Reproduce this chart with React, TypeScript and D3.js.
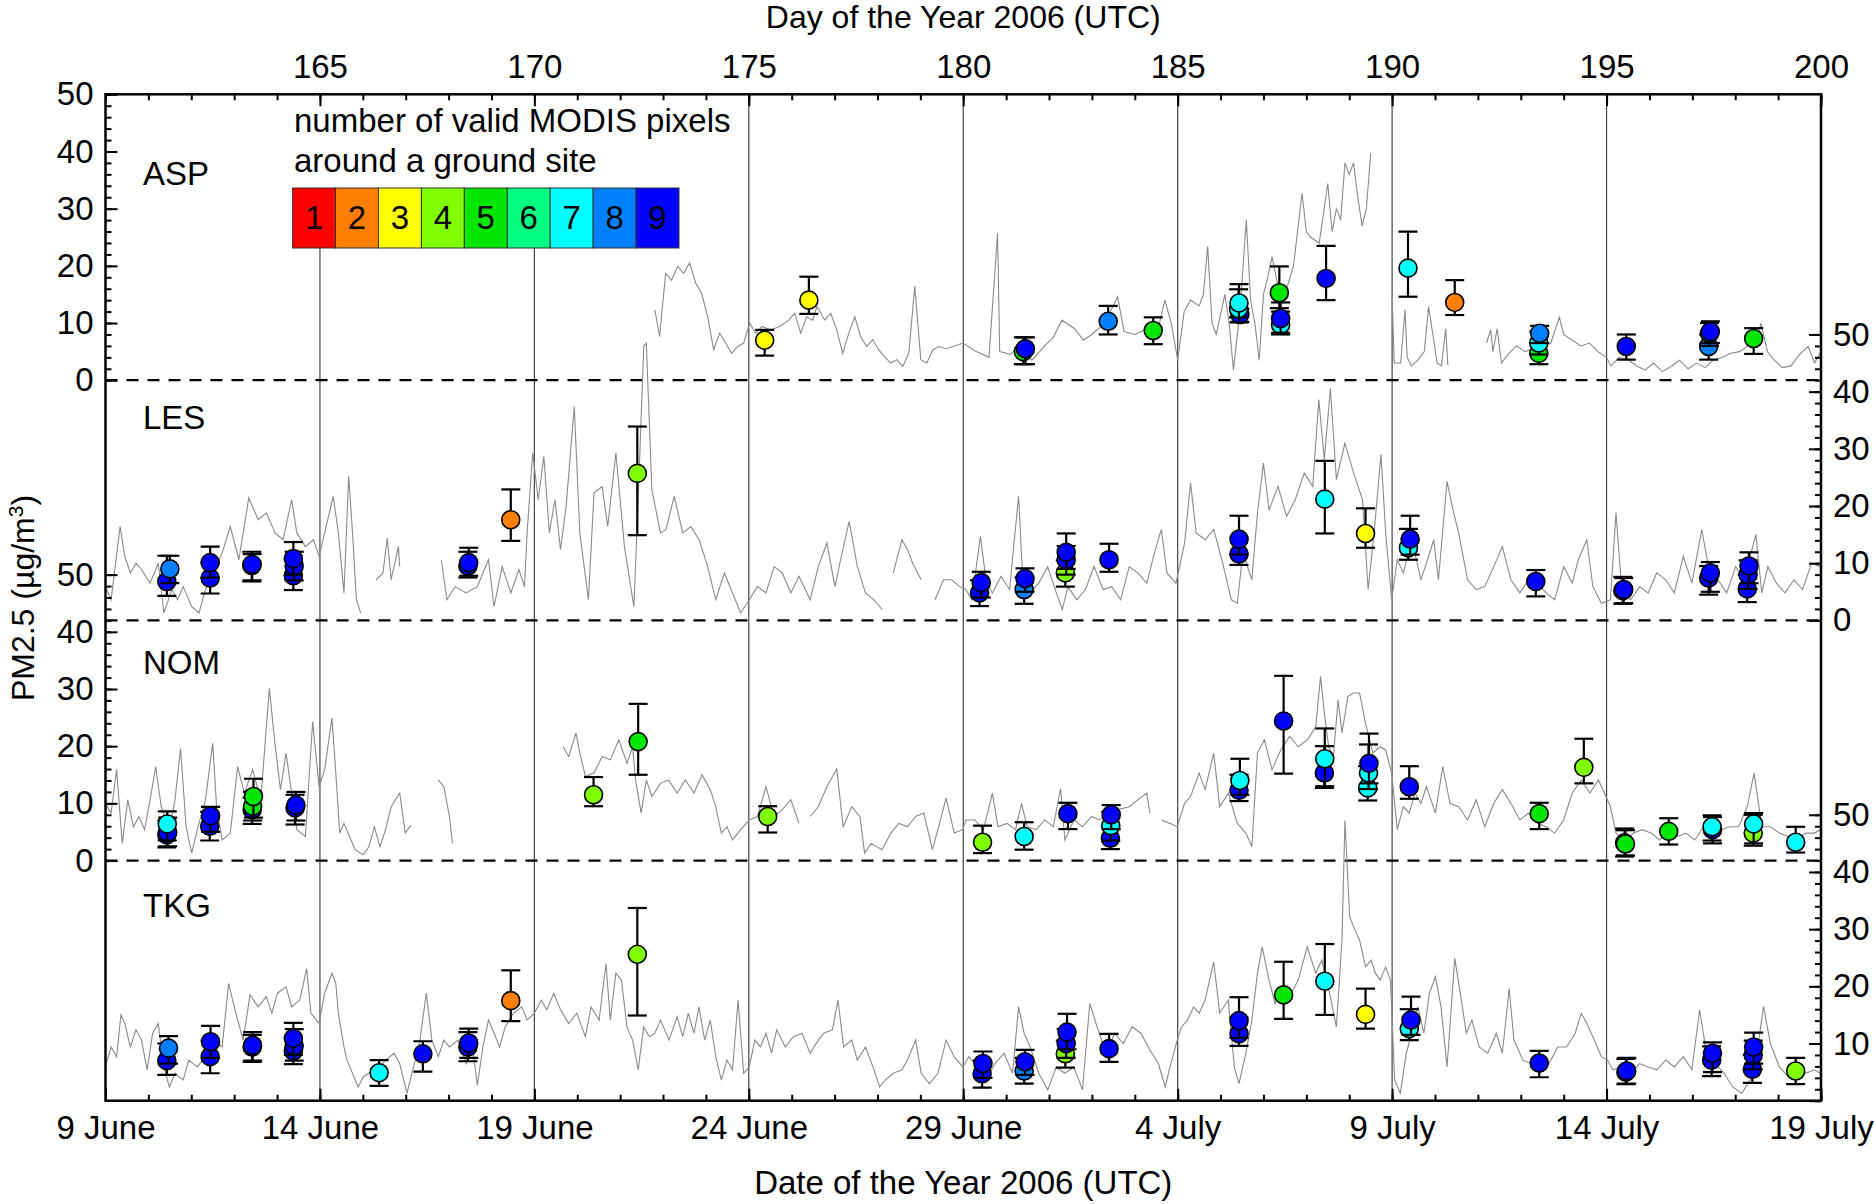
import { useRef, useEffect } from "react";
import * as d3 from "d3";

type Pt = [number, number] | null;
type Modis = [number, number, number, number, number]; // day, value, low, high, number of pixels

const FONT = "'Liberation Sans', Arial, Helvetica, sans-serif";

const sites = ["ASP", "LES", "NOM", "TKG"];
// zero of each panel on the stacked 0..176 scale
const siteBase = [126, 84, 42, 0];
const siteLabelAt = [34.2, 33.5, 32.6, 32.1];
const pixelColors = ["#ff0000", "#ff8000", "#ffff00", "#80ff00", "#00e600", "#00ff80", "#00ffff", "#0080ff", "#0000ff"];
const pixelCounts = [1, 2, 3, 4, 5, 6, 7, 8, 9];
const dayTicks = [165, 170, 175, 180, 185, 190, 195, 200];
const dateTicks = [160, 165, 170, 175, 180, 185, 190, 195, 200];
const dateLabels = ["9 June", "14 June", "19 June", "24 June", "29 June", "4 July", "9 July", "14 July", "19 July"];
const legendTitle = ["number of valid MODIS pixels", "around a ground site"];

// ground measurements (gray lines), null = gap
const aspGround: Pt[] = [
  [172.81, 12.3], [172.92, 7.6], [173.06, 18.7], [173.2, 17.5], [173.34, 19.9], [173.48, 18.7], [173.62, 20.5], [173.76, 17.0],
  [173.9, 15.2], [174.04, 11.1], [174.18, 5.3], [174.32, 8.2], [174.46, 6.5], [174.6, 4.7], [174.74, 5.9], [174.88, 6.5],
  [175.02, 10.0], [175.16, 8.2], [175.3, 9.4], [175.51, 8.8], [175.72, 9.4], [175.93, 10.5], [176.07, 11.7], [176.21, 8.2],
  [176.35, 11.1], [176.49, 10.5], [176.59, 12.9], [176.77, 10.5], [176.91, 11.7], [177.05, 8.8], [177.19, 4.7], [177.33, 8.2],
  [177.47, 11.1], [177.61, 7.6], [177.75, 5.9], [177.89, 7.1], [178.03, 5.3], [178.17, 4.1], [178.31, 3.0], [178.45, 3.6],
  [178.59, 2.4], [178.73, 4.7], [178.87, 16.4], [179.01, 3.6], [179.15, 3.0], [179.29, 5.3], [179.43, 5.9], [179.6, 5.5],
  [180.0, 6.5], [180.3, 5.0], [180.6, 4.0], [180.8, 25.7], [180.85, 5.0], [181.1, 4.5], [181.3, 6.0], [181.6, 3.5],
  [181.9, 6.0], [182.1, 7.5], [182.3, 10.5], [182.6, 9.0], [182.8, 7.0], [183.0, 8.0], [183.3, 10.0], [183.6, 14.6],
  [183.75, 8.5], [184.0, 8.0], [184.3, 9.0], [184.5, 7.5], [184.7, 14.0], [184.85, 10.0], [185.0, 3.5], [185.15, 12.0],
  [185.3, 14.0], [185.5, 13.0], [185.6, 15.0], [185.7, 23.4], [185.8, 10.0], [185.9, 8.0], [186.1, 15.0], [186.2, 10.0],
  [186.3, 1.8], [186.45, 12.0], [186.6, 28.0], [186.7, 14.0], [186.8, 10.0], [186.9, 3.5], [187.0, 15.0], [187.1, 18.0],
  [187.2, 21.6], [187.35, 16.0], [187.5, 15.0], [187.7, 20.0], [187.9, 32.7], [188.0, 26.0], [188.1, 25.0], [188.3, 24.0],
  [188.5, 34.4], [188.6, 26.0], [188.7, 30.0], [188.8, 28.0], [188.9, 38.0], [189.0, 36.0], [189.1, 38.0], [189.2, 32.0],
  [189.3, 27.0], [189.4, 30.0], [189.5, 39.7], null,
  [190.0, 14.6], [190.05, 3.0], [190.2, 3.0], [190.3, 12.3], [190.35, 4.0], [190.45, 2.5], [190.6, 3.5], [190.75, 5.0],
  [190.85, 12.9], [190.95, 8.0], [191.05, 3.0], [191.15, 2.5], [191.25, 9.0], [191.3, 2.6], null,
  [192.2, 6.5], [192.3, 8.8], [192.35, 5.0], [192.45, 9.0], [192.55, 3.0], [192.7, 4.5], [192.9, 6.0], [193.1, 5.0],
  [193.3, 5.5], [193.5, 6.0], [193.7, 6.5], [193.9, 11.0], [194.0, 8.0], [194.2, 7.0], [194.4, 6.0], [194.6, 6.5],
  [194.8, 5.0], [195.0, 4.0], [195.1, 2.5], [195.3, 4.0], [195.5, 3.6], [195.7, 2.5], [195.9, 1.8], [196.1, 3.0],
  [196.3, 1.5], [196.5, 2.4], [196.7, 3.5], [196.9, 2.0], [197.1, 3.0], [197.3, 2.2], [197.5, 3.6], [197.7, 4.0],
  [197.9, 4.7], [198.1, 5.0], [198.3, 6.0], [198.5, 7.0], [198.6, 10.0], [198.75, 5.0], [198.9, 3.6], [199.1, 2.2],
  [199.3, 2.5], [199.5, 4.5], [199.7, 5.9], [199.85, 3.0], [200.0, 5.0],
];

const lesGround: Pt[] = [
  [160.0, 5.9], [160.13, 3.6], [160.34, 16.4], [160.45, 11.2], [160.58, 8.3], [160.71, 10.0], [160.84, 8.9], [161.04, 6.5],
  [161.23, 10.0], [161.36, 1.3], [161.55, 5.4], [161.68, 3.6], [161.81, 5.9], [162.01, 2.4], [162.18, 1.3], [162.33, 5.4],
  [162.52, 8.3], [162.72, 11.8], [162.91, 16.4], [163.11, 10.6], [163.34, 21.4], [163.56, 17.6], [163.75, 18.8], [163.95, 15.3],
  [164.14, 14.1], [164.34, 21.1], [164.46, 15.3], [164.66, 12.9], [164.85, 14.1], [164.98, 11.2], [165.11, 15.3], [165.31, 21.7],
  [165.43, 15.3], [165.56, 4.8], [165.67, 25.2], [165.76, 15.3], [165.85, 3.6], [165.95, 1.3], null,
  [166.31, 7.1], [166.47, 8.3], [166.57, 14.4], [166.66, 7.1], [166.83, 12.9], [166.86, 9.4], null,
  [167.83, 10.6], [167.96, 3.6], [168.15, 5.9], [168.41, 4.8], [168.67, 5.9], [168.93, 10.6], [169.06, 2.4], [169.25, 9.4],
  [169.45, 4.8], [169.64, 8.9], [169.77, 5.9], [169.83, 15.3], [169.96, 29.3], [170.09, 21.1], [170.22, 28.7], [170.35, 15.3],
  [170.48, 21.1], [170.61, 12.4], [170.74, 19.9], [170.93, 37.4], [171.06, 15.3], [171.26, 3.6], [171.39, 22.3], [171.58, 23.4],
  [171.71, 16.4], [171.9, 29.3], [172.1, 12.9], [172.32, 2.4], [172.42, 21.1], [172.55, 47.9], [172.61, 48.5], [172.74, 22.8],
  [172.94, 15.3], [173.07, 15.9], [173.26, 21.7], [173.46, 15.3], [173.65, 16.4], [173.84, 14.1], [174.04, 9.4], [174.23, 3.6],
  [174.43, 8.3], [174.62, 4.8], [174.81, 1.3], [175.01, 3.6], [175.2, 5.9], [175.4, 4.8], [175.59, 9.4], [175.78, 8.3],
  [175.98, 4.8], [176.17, 7.7], [176.43, 3.6], [176.62, 9.4], [176.82, 13.5], [177.01, 5.9], [177.14, 10.6], [177.34, 17.3],
  [177.53, 9.4], [177.72, 4.8], [177.92, 3.6], [178.11, 1.9], null,
  [178.37, 8.3], [178.57, 14.1], [178.7, 12.4], [178.82, 10.0], [179.02, 7.1], null,
  [179.34, 3.6], [179.54, 7.1], [179.73, 7.1], [179.92, 5.9], [180.06, 5.4], [180.2, 3.6], [180.4, 14.7], [180.54, 6.5],
  [180.68, 4.8], [180.88, 7.7], [181.08, 5.4], [181.29, 21.7], [181.4, 5.4], [181.56, 4.8], [181.76, 6.5], [181.97, 9.4],
  [182.17, 4.8], [182.31, 1.9], [182.44, 5.9], [182.65, 3.6], [182.85, 5.4], [183.05, 9.4], [183.26, 5.4], [183.46, 5.9],
  [183.67, 3.6], [183.87, 9.4], [184.07, 8.3], [184.28, 6.5], [184.48, 12.4], [184.62, 15.9], [184.75, 8.3], [184.96, 6.5],
  [185.16, 13.5], [185.3, 24.0], [185.43, 15.3], [185.64, 14.1], [185.84, 15.9], [186.05, 10.0], [186.25, 3.6], [186.39, 3.0],
  [186.52, 11.8], [186.73, 7.1], [186.86, 18.8], [187.0, 27.5], [187.13, 19.3], [187.34, 23.4], [187.54, 18.2], [187.74, 21.1],
  [187.95, 25.8], [188.15, 23.4], [188.29, 38.6], [188.42, 28.1], [188.56, 40.6], [188.7, 24.6], [188.9, 31.0], [189.1, 25.8],
  [189.31, 21.1], [189.44, 5.4], [189.58, 15.3], [189.74, 29.0], [189.85, 15.3], [189.99, 3.6], [190.12, 10.6], [190.26, 8.3],
  [190.46, 14.1], [190.67, 7.1], [190.8, 10.0], [190.97, 14.1], [191.08, 7.1], [191.28, 24.3], [191.42, 19.3], [191.55, 15.3],
  [191.76, 7.1], [191.96, 5.4], [192.16, 5.9], [192.37, 9.4], [192.57, 12.9], [192.77, 7.1], [192.98, 4.8], [193.18, 7.1],
  [193.39, 6.5], [193.59, 4.8], [193.79, 3.6], [194.0, 9.4], [194.2, 6.5], [194.34, 10.6], [194.54, 14.1], [194.68, 5.9],
  [194.88, 3.0], [195.09, 3.6], [195.22, 18.8], [195.36, 4.8], [195.56, 3.6], [195.77, 5.9], [195.97, 4.8], [196.17, 8.3],
  [196.38, 7.1], [196.58, 4.8], [196.79, 11.2], [196.99, 6.5], [197.22, 15.9], [197.4, 8.3], [197.6, 7.1], [197.8, 4.8],
  [198.01, 9.4], [198.21, 7.1], [198.48, 15.0], [198.62, 4.8], [198.76, 9.4], [198.96, 6.5], [199.16, 4.8], [199.37, 7.1],
  [199.57, 5.4], [199.78, 10.0], [199.98, 9.4],
];

const nomGround: Pt[] = [
  [160.0, 10.0], [160.13, 8.3], [160.26, 15.9], [160.39, 3.0], [160.52, 10.6], [160.65, 5.9], [160.78, 7.7], [160.91, 5.4],
  [161.04, 10.6], [161.17, 16.4], [161.3, 9.4], [161.49, 5.4], [161.62, 10.6], [161.75, 19.6], [161.88, 5.9], [162.01, 1.3],
  [162.14, 5.4], [162.33, 10.6], [162.5, 20.5], [162.59, 9.4], [162.72, 3.6], [162.91, 4.8], [163.08, 16.4], [163.24, 11.8],
  [163.43, 15.9], [163.62, 10.6], [163.82, 30.1], [163.95, 20.5], [164.08, 12.4], [164.21, 18.8], [164.34, 11.8], [164.46, 5.4],
  [164.66, 4.2], [164.83, 24.3], [164.98, 12.9], [165.11, 15.9], [165.28, 24.9], [165.37, 15.3], [165.46, 4.8], [165.56, 6.5],
  [165.69, 4.2], [165.82, 1.9], [166.01, 1.0], [166.14, 2.4], [166.27, 5.9], [166.4, 2.4], [166.53, 5.4], [166.66, 9.4],
  [166.86, 11.8], [166.99, 4.8], [167.12, 6.2], null,
  [167.76, 14.1], [167.89, 12.9], [168.02, 7.7], [168.09, 3.0], null,
  [170.67, 19.9], [170.8, 18.2], [170.97, 22.3], [171.06, 18.8], [171.19, 14.7], [171.39, 15.3], [171.58, 18.2], [171.77, 17.6],
  [171.97, 21.1], [172.16, 17.0], [172.29, 19.9], [172.36, 14.1], [172.49, 8.3], [172.61, 14.1], [172.74, 11.2], [172.94, 13.5],
  [173.13, 14.1], [173.33, 11.8], [173.52, 14.1], [173.72, 11.8], [173.91, 15.0], [174.1, 12.4], [174.23, 9.4], [174.36, 4.8],
  [174.49, 5.9], [174.62, 3.6], [174.81, 5.4], [175.01, 7.1], [175.2, 7.7], [175.4, 12.9], [175.59, 7.7], [175.78, 8.9],
  [175.98, 10.6], [176.17, 6.5], null,
  [176.43, 7.7], [176.62, 9.4], [176.82, 12.9], [177.05, 16.0], [177.2, 5.9], [177.4, 9.4], [177.59, 7.7], [177.7, 1.3],
  [177.85, 3.0], [178.11, 1.9], [178.31, 4.8], [178.5, 6.5], [178.7, 5.9], [178.89, 7.7], [179.08, 8.3], [179.28, 1.9],
  [179.41, 5.4], [179.6, 10.9], [179.79, 4.8], [179.99, 5.4], [180.06, 7.1], [180.27, 7.1], [180.47, 5.4], [180.68, 11.8],
  [180.81, 5.9], [181.02, 6.5], [181.22, 5.4], [181.36, 10.0], [181.49, 5.9], [181.7, 5.4], [181.9, 7.1], [182.1, 5.9],
  [182.27, 12.6], [182.37, 3.6], [182.58, 7.1], [182.78, 5.9], [182.99, 7.7], [183.19, 7.1], [183.39, 9.4], [183.6, 8.9],
  [183.87, 9.4], [184.07, 10.6], [184.28, 11.8], [184.35, 8.3], null,
  [184.62, 7.1], [184.82, 6.5], [184.99, 5.9], [185.16, 10.0], [185.3, 11.2], [185.5, 15.3], [185.64, 12.4], [185.84, 18.8],
  [185.98, 9.4], [186.18, 11.8], [186.39, 6.5], [186.59, 4.8], [186.73, 2.4], [186.86, 18.8], [187.02, 21.1], [187.2, 15.9],
  [187.4, 19.3], [187.61, 21.7], [187.81, 19.9], [188.02, 21.1], [188.22, 23.4], [188.33, 32.2], [188.42, 25.8], [188.52, 19.9],
  [188.63, 18.2], [188.74, 28.1], [188.83, 22.3], [188.97, 28.7], [189.1, 29.3], [189.24, 29.3], [189.38, 24.0], [189.55, 18.8],
  [189.72, 19.9], [189.85, 19.3], [189.99, 15.3], [190.12, 5.4], [190.26, 9.4], [190.4, 8.3], [190.53, 11.8], [190.67, 10.0],
  [190.8, 12.9], [191.01, 8.3], [191.18, 16.4], [191.35, 10.0], [191.55, 9.4], [191.76, 7.1], [191.96, 10.6], [192.16, 5.9],
  [192.37, 10.0], [192.57, 12.4], [192.77, 10.0], [192.98, 7.1], [193.18, 8.3], [193.39, 6.5], [193.59, 5.9], [193.79, 4.8],
  [194.0, 7.1], [194.2, 11.8], [194.41, 14.1], [194.61, 11.8], [194.81, 14.1], [194.95, 11.8], [195.09, 9.4], [195.22, 4.8],
  [195.43, 3.6], [195.63, 4.8], [195.83, 5.4], [196.04, 4.8], [196.24, 3.6], [196.44, 5.9], [196.65, 4.2], [196.85, 4.8],
  [197.06, 3.6], [197.26, 5.9], [197.46, 6.5], [197.67, 5.4], [197.87, 5.9], [198.08, 5.9], [198.28, 9.4], [198.44, 15.3],
  [198.62, 5.9], [198.82, 5.9], [199.03, 4.8], [199.23, 4.2], [199.44, 3.6], [199.64, 4.8], [199.85, 4.8], [199.98, 5.4],
];

const tkgGround: Pt[] = [
  [160.0, 5.9], [160.13, 9.4], [160.26, 7.7], [160.36, 15.0], [160.45, 13.5], [160.58, 9.4], [160.71, 12.4], [160.84, 10.6],
  [160.97, 5.4], [161.1, 11.8], [161.23, 13.5], [161.36, 5.9], [161.49, 2.4], [161.62, 4.8], [161.81, 3.6], [161.94, 7.1],
  [162.14, 5.9], [162.33, 7.7], [162.52, 10.6], [162.72, 9.4], [162.87, 20.5], [163.04, 15.3], [163.21, 10.6], [163.37, 18.5],
  [163.56, 16.4], [163.75, 18.2], [163.88, 15.3], [164.01, 18.8], [164.21, 19.9], [164.34, 16.4], [164.53, 17.6], [164.69, 23.1],
  [164.79, 15.3], [164.98, 13.5], [165.11, 18.8], [165.28, 22.3], [165.37, 20.5], [165.43, 15.3], [165.56, 9.4], [165.63, 7.1],
  [165.76, 4.8], [165.89, 2.4], [166.01, 4.2], [166.14, 4.8], [166.27, 5.9], [166.4, 5.9], [166.53, 7.1], [166.73, 8.3],
  [166.86, 6.5], [167.03, 1.3], [167.18, 5.9], [167.31, 9.4], [167.48, 18.8], [167.61, 10.6], [167.76, 7.7], [167.89, 10.6],
  [168.02, 9.4], [168.22, 10.6], [168.41, 6.5], [168.54, 10.6], [168.67, 2.7], [168.8, 9.4], [168.93, 14.1], [169.06, 11.8],
  [169.19, 9.4], [169.32, 12.9], [169.51, 15.3], [169.71, 16.4], [169.83, 14.1], [170.0, 15.3], [170.16, 17.6], [170.29, 15.9],
  [170.45, 18.8], [170.61, 15.9], [170.8, 13.5], [170.99, 15.3], [171.19, 11.2], [171.32, 16.4], [171.51, 14.1], [171.67, 24.0],
  [171.77, 14.1], [171.9, 22.3], [172.03, 21.1], [172.16, 12.9], [172.29, 10.6], [172.42, 5.4], [172.55, 12.9], [172.68, 11.2],
  [172.81, 11.8], [172.94, 14.1], [173.14, 10.6], [173.33, 14.7], [173.46, 11.2], [173.59, 15.3], [173.72, 11.8], [173.84, 16.4],
  [173.97, 10.6], [174.1, 14.1], [174.23, 7.7], [174.36, 3.6], [174.49, 7.1], [174.62, 5.4], [174.75, 17.6], [174.88, 4.8],
  [175.01, 5.9], [175.14, 10.6], [175.27, 9.4], [175.4, 11.8], [175.53, 8.3], [175.65, 12.4], [175.85, 9.4], [176.04, 11.2],
  [176.24, 11.8], [176.43, 8.3], [176.62, 10.6], [176.75, 11.8], [176.95, 12.4], [177.08, 17.6], [177.21, 9.4], [177.4, 10.6],
  [177.53, 7.1], [177.72, 9.4], [177.92, 5.4], [178.05, 2.4], [178.18, 3.6], [178.37, 4.8], [178.57, 5.4], [178.7, 7.1],
  [178.89, 10.6], [179.02, 4.8], [179.21, 3.0], [179.41, 4.8], [179.6, 10.6], [179.79, 7.7], [179.99, 5.9], [180.13, 7.7],
  [180.34, 5.9], [180.54, 3.6], [180.74, 6.5], [180.95, 8.3], [181.15, 4.8], [181.29, 16.4], [181.42, 11.8], [181.56, 9.4],
  [181.76, 4.8], [181.97, 1.9], [182.17, 5.9], [182.37, 4.8], [182.58, 5.9], [182.78, 1.9], [182.95, 17.0], [183.12, 12.9],
  [183.33, 8.3], [183.53, 11.8], [183.73, 10.0], [183.94, 12.9], [184.14, 11.8], [184.35, 8.9], [184.55, 6.5], [184.71, 2.4],
  [184.82, 5.9], [184.99, 10.6], [185.09, 12.9], [185.23, 14.1], [185.37, 16.4], [185.5, 15.3], [185.64, 17.6], [185.84, 24.3],
  [185.98, 15.3], [186.18, 17.6], [186.32, 5.9], [186.43, 3.0], [186.59, 8.3], [186.73, 14.1], [186.86, 22.3], [186.97, 26.9],
  [187.13, 21.1], [187.27, 17.0], [187.4, 19.9], [187.61, 18.2], [187.81, 21.1], [188.02, 26.9], [188.22, 22.3], [188.36, 24.6],
  [188.56, 18.2], [188.7, 12.9], [188.83, 28.1], [188.9, 49.0], [189.01, 32.2], [189.1, 30.4], [189.24, 28.1], [189.38, 23.4],
  [189.51, 24.6], [189.61, 22.3], [189.72, 21.1], [189.85, 23.4], [189.96, 21.1], [190.06, 3.6], [190.19, 1.3], [190.33, 8.3],
  [190.46, 11.8], [190.6, 16.4], [190.74, 11.8], [190.87, 18.8], [191.01, 21.7], [191.14, 16.4], [191.28, 5.9], [191.46, 24.9],
  [191.59, 18.8], [191.73, 11.8], [191.86, 14.1], [192.03, 9.4], [192.23, 8.3], [192.43, 11.8], [192.57, 8.3], [192.73, 19.6],
  [192.84, 10.6], [193.05, 7.1], [193.25, 6.5], [193.45, 4.8], [193.66, 6.5], [193.86, 9.4], [194.07, 9.4], [194.27, 11.8],
  [194.41, 15.3], [194.54, 13.5], [194.75, 10.0], [194.88, 7.7], [195.02, 7.1], [195.15, 5.4], [195.36, 5.9], [195.56, 4.8],
  [195.77, 6.5], [195.97, 5.9], [196.17, 5.4], [196.38, 7.1], [196.58, 5.9], [196.79, 7.7], [196.99, 5.4], [197.17, 15.9],
  [197.33, 8.3], [197.53, 6.5], [197.74, 4.8], [197.94, 2.4], [198.15, 1.3], [198.35, 3.6], [198.55, 10.6], [198.66, 16.5],
  [198.82, 10.0], [199.03, 5.9], [199.23, 4.2], [199.44, 6.5], [199.64, 4.8], [199.85, 5.4], [199.98, 4.8],
];

// MODIS retrievals: day, PM2.5, error low, error high, valid pixels
const aspModis: Modis[] = [
  [175.37, 7.0, 4.3, 8.8, 3], [176.4, 14.0, 11.6, 18.1, 3], [181.4, 5.0, 2.8, 7.5, 5], [181.45, 5.5, 2.8, 7.5, 9],
  [183.38, 10.3, 8.0, 13.0, 8], [184.43, 8.7, 6.3, 11.0, 5], [186.45, 11.5, 10.2, 12.5, 9], [186.42, 12.5, 11.0, 15.9, 7],
  [186.43, 13.5, 10.1, 16.8, 7], [187.37, 15.3, 12.6, 19.9, 5], [187.4, 9.7, 8.0, 12.0, 7], [187.4, 10.8, 8.3, 13.6, 9],
  [188.46, 17.8, 14.0, 23.5, 9], [190.37, 19.6, 14.6, 26.0, 7], [191.46, 13.6, 11.4, 17.5, 2], [193.42, 4.7, 2.8, 6.5, 5],
  [193.42, 6.5, 4.5, 8.5, 7], [193.44, 8.2, 6.5, 9.5, 8], [195.46, 5.9, 3.6, 8.0, 9], [197.38, 5.9, 3.6, 8.0, 8],
  [197.4, 8.2, 6.0, 10.0, 5], [197.42, 8.5, 6.5, 10.3, 9], [198.43, 7.3, 4.6, 9.1, 5],
];

const lesModis: Modis[] = [
  [161.43, 6.8, 4.3, 11.3, 9], [161.5, 9.0, 6.5, 11.3, 8], [162.44, 7.4, 4.7, 10.0, 9], [162.44, 10.1, 7.5, 12.9, 9],
  [163.41, 9.6, 6.8, 12.0, 9], [163.42, 9.8, 7.0, 11.6, 9], [164.38, 7.8, 5.3, 10.5, 9], [164.4, 9.5, 7.0, 12.0, 9],
  [164.38, 10.8, 8.0, 13.7, 9], [168.45, 9.5, 7.5, 12.0, 9], [168.47, 10.1, 7.8, 12.7, 9], [169.45, 17.6, 13.9, 22.9, 2],
  [172.4, 25.7, 14.9, 33.9, 4], [180.38, 4.8, 2.5, 7.0, 9], [180.42, 6.6, 4.0, 8.5, 9], [181.42, 5.4, 2.9, 7.5, 8],
  [181.44, 7.3, 5.0, 9.1, 9], [182.38, 8.3, 5.9, 10.5, 4], [182.4, 10.6, 8.0, 13.0, 9], [182.4, 11.9, 9.0, 15.2, 9],
  [183.4, 10.6, 8.5, 13.4, 9], [186.43, 11.6, 9.7, 14.5, 9], [186.43, 14.2, 11.5, 18.3, 9], [188.43, 21.2, 15.2, 27.9, 7],
  [189.38, 15.2, 12.7, 19.6, 3], [190.38, 12.7, 10.6, 16.0, 7], [190.42, 14.2, 11.5, 18.3, 9], [193.35, 6.8, 4.2, 8.8, 9],
  [195.38, 5.2, 2.9, 7.6, 8], [195.4, 5.4, 3.0, 7.4, 9], [197.38, 7.4, 4.5, 9.5, 9], [197.42, 8.3, 5.0, 10.2, 9],
  [198.28, 5.5, 3.2, 8.0, 9], [198.3, 8.0, 5.5, 10.5, 9], [198.32, 9.5, 6.5, 11.9, 9],
];

const nomModis: Modis[] = [
  [161.43, 4.5, 2.3, 7.0, 9], [161.45, 4.9, 2.5, 7.5, 9], [161.44, 6.4, 3.5, 8.6, 7], [162.43, 6.0, 3.5, 8.5, 9],
  [162.45, 7.8, 5.0, 9.4, 9], [163.42, 8.9, 6.4, 11.0, 9], [163.43, 9.5, 7.0, 12.0, 5], [163.45, 11.2, 7.5, 14.3, 5],
  [164.42, 9.2, 6.3, 11.5, 9], [164.44, 9.7, 7.0, 12.0, 9], [171.38, 11.5, 9.5, 14.6, 4], [172.42, 20.8, 15.0, 27.4, 5],
  [175.44, 7.7, 4.9, 9.5, 4], [180.45, 3.2, 1.3, 6.1, 4], [181.42, 4.2, 1.9, 6.7, 7], [182.44, 8.2, 5.5, 10.1, 9],
  [183.43, 3.9, 2.0, 6.0, 9], [183.44, 6.1, 3.5, 8.5, 7], [183.45, 8.0, 5.5, 9.7, 9], [186.43, 12.3, 10.4, 15.0, 9],
  [186.45, 14.0, 11.5, 17.8, 7], [187.47, 24.4, 15.2, 32.3, 9], [188.42, 15.3, 12.7, 20.0, 9], [188.43, 17.8, 13.0, 23.1, 7],
  [189.43, 12.7, 10.5, 16.5, 7], [189.45, 15.3, 12.5, 20.3, 7], [189.46, 17.0, 13.5, 22.2, 9], [190.4, 12.9, 10.8, 16.5, 9],
  [193.43, 8.2, 5.5, 10.1, 5], [194.47, 16.3, 13.5, 21.3, 4], [195.42, 3.1, 0.7, 5.6, 4], [195.44, 2.9, 0.9, 5.3, 5],
  [196.45, 5.1, 2.8, 7.4, 5], [197.47, 5.4, 3.0, 7.6, 9], [197.46, 5.9, 3.5, 7.9, 7], [198.42, 4.8, 2.6, 8.0, 4],
  [198.43, 6.4, 3.0, 8.3, 7], [199.41, 3.2, 1.4, 5.9, 7],
];

const tkgModis: Modis[] = [
  [161.43, 7.0, 4.5, 10.0, 9], [161.47, 9.2, 6.5, 11.3, 8], [162.44, 7.7, 4.8, 10.5, 9], [162.45, 10.3, 7.5, 13.1, 9],
  [163.42, 9.4, 6.8, 11.5, 9], [163.43, 9.7, 7.0, 12.0, 9], [164.38, 8.7, 6.4, 11.0, 9], [164.4, 9.6, 7.0, 12.5, 9],
  [164.38, 10.9, 8.0, 13.6, 9], [166.38, 4.9, 2.6, 7.1, 7], [167.4, 8.2, 5.1, 10.4, 9], [168.45, 9.4, 6.9, 12.0, 9],
  [168.47, 10.1, 7.5, 12.6, 9], [169.45, 17.5, 13.9, 22.8, 2], [172.4, 25.6, 14.9, 33.7, 4], [180.44, 4.7, 2.3, 7.0, 9],
  [180.46, 6.5, 4.0, 8.6, 9], [181.42, 5.2, 3.0, 7.5, 8], [181.44, 6.8, 4.5, 8.9, 9], [182.38, 8.2, 5.8, 10.5, 4],
  [182.4, 10.0, 7.5, 12.5, 9], [182.42, 12.0, 9.0, 15.2, 9], [183.4, 9.1, 6.8, 11.7, 9], [186.43, 11.7, 9.6, 14.5, 9],
  [186.43, 14.0, 11.0, 18.1, 9], [187.47, 18.5, 14.3, 24.3, 5], [188.43, 20.9, 15.0, 27.4, 7], [189.38, 15.1, 12.6, 19.6, 3],
  [190.4, 12.6, 10.6, 16.0, 7], [190.44, 14.1, 11.5, 18.2, 9], [193.43, 6.6, 4.1, 8.7, 9], [195.45, 5.0, 2.9, 7.3, 8],
  [195.47, 5.2, 3.0, 7.5, 9], [197.45, 7.1, 4.3, 9.5, 9], [197.47, 8.3, 5.0, 10.2, 9], [198.4, 5.5, 3.1, 8.0, 9],
  [198.42, 8.0, 5.5, 10.5, 9], [198.43, 9.4, 6.5, 11.9, 9], [199.41, 5.2, 2.9, 7.5, 4],
];

const groundSeries = [aspGround, lesGround, nomGround, tkgGround];
const modisSeries = [aspModis, lesModis, nomModis, tkgModis];

export default function App() {
  const svgRef = useRef<SVGSVGElement | null>(null);

  useEffect(() => {
    if (!svgRef.current) return;
    document.body.style.margin = "0";

    const width = 1874;
    const height = 1204;
    const margin = { top: 94.3, right: 53, bottom: 103.3, left: 105.5 };

    const svg = d3.select(svgRef.current)
      .attr("width", width)
      .attr("height", height)
      .attr("font-family", FONT);
    svg.selectAll("*").remove();

    const x = d3.scaleLinear().domain([160, 200]).range([margin.left, width - margin.right]);
    const y = d3.scaleLinear().domain([0, 176]).range([height - margin.bottom, margin.top]);
    const [x0, x1] = x.range();
    const [yb, yt] = y.range();

    svg.append("defs").append("clipPath").attr("id", "plotClip")
      .append("rect").attr("x", x0).attr("y", yt).attr("width", x1 - x0).attr("height", yb - yt);

    // legend placement
    const legendBand = d3.scaleBand<number>().domain(pixelCounts).range([292.6, 679]);
    const legendTop = 188, legendBottom = 248;

    // vertical day lines (interrupted by the legend)
    svg.append("g")
      .selectAll("line")
      .data(dayTicks.filter(d => d < 200))
      .join("line")
      .attr("x1", d => x(d)).attr("x2", d => x(d))
      .attr("y1", d => (x(d) > 285 && x(d) < 740 ? legendBottom : yt))
      .attr("y2", yb)
      .attr("stroke", "#444")
      .attr("stroke-width", 1.2);

    // dashed zero lines of the upper panels
    svg.append("g")
      .selectAll("line")
      .data(siteBase.filter(b => b > 0))
      .join("line")
      .attr("x1", x0).attr("x2", x1)
      .attr("y1", d => y(d)).attr("y2", d => y(d))
      .attr("stroke", "#000")
      .attr("stroke-width", 2.2)
      .attr("stroke-dasharray", "12 9");

    const data = svg.append("g").attr("clip-path", "url(#plotClip)");

    sites.forEach((site, i) => {
      const base = siteBase[i];
      const line = d3.line<Pt>()
        .defined(d => d !== null)
        .x(d => x((d as [number, number])[0]))
        .y(d => y((d as [number, number])[1] + base));

      data.append("path")
        .attr("d", line(groundSeries[i]) || "")
        .attr("fill", "none")
        .attr("stroke", "#8a8a8a")
        .attr("stroke-width", 1.1);

      const pts = data.append("g");
      modisSeries[i].forEach(p => {
        const [day, v, lo, hi, n] = p;
        const cx = x(day);
        const g = pts.append("g");
        g.append("line")
          .attr("x1", cx).attr("x2", cx)
          .attr("y1", y(lo + base)).attr("y2", y(hi + base));
        [lo, hi].forEach(e => {
          g.append("line")
            .attr("x1", cx - 9.5).attr("x2", cx + 9.5)
            .attr("y1", y(e + base)).attr("y2", y(e + base));
        });
        g.selectAll("line").attr("stroke", "#000").attr("stroke-width", 2.2);
        g.append("circle")
          .attr("cx", cx).attr("cy", y(v + base))
          .attr("r", 9)
          .attr("fill", pixelColors[n - 1])
          .attr("stroke", "#000")
          .attr("stroke-width", 1.6);
      });

      svg.append("text")
        .attr("x", 143)
        .attr("y", y(base + siteLabelAt[i]))
        .attr("font-size", 33)
        .text(site);
    });

    // axes
    const styleAxis = (g: any) => {
      g.attr("font-size", 33).attr("font-family", FONT);
      g.select(".domain").remove();
      g.selectAll("line").attr("stroke-width", 2);
      g.selectAll("text").attr("fill", "#000");
    };

    svg.append("g").attr("transform", `translate(0,${yt})`)
      .call(d3.axisTop(x).tickValues(d3.range(160, 201)).tickSize(-6).tickFormat(() => ""))
      .call(styleAxis);
    svg.append("g").attr("transform", `translate(0,${yt})`)
      .call(d3.axisTop(x).tickValues(dayTicks).tickSize(-12).tickPadding(16).tickFormat(d => String(d)))
      .call(styleAxis);

    svg.append("g").attr("transform", `translate(0,${yb})`)
      .call(d3.axisBottom(x).tickValues(d3.range(160, 201)).tickSize(-6).tickFormat(() => ""))
      .call(styleAxis);
    svg.append("g").attr("transform", `translate(0,${yb})`)
      .call(d3.axisBottom(x).tickValues(dateTicks).tickSize(-12).tickPadding(15)
        .tickFormat((d, k) => dateLabels[k]))
      .call(styleAxis);

    sites.forEach((site, i) => {
      const base = siteBase[i];
      const py = d3.scaleLinear().domain([-base, 176 - base]).range([yb, yt]);
      const onLeft = i % 2 === 0;
      const make = onLeft ? d3.axisLeft : d3.axisRight;
      const xPos = onLeft ? x0 : x1;
      svg.append("g").attr("transform", `translate(${xPos},0)`)
        .call(make(py).tickValues(d3.range(0, 51, 2)).tickSize(-6).tickFormat(() => ""))
        .call(styleAxis);
      svg.append("g").attr("transform", `translate(${xPos},0)`)
        .call(make(py).tickValues(d3.range(0, 51, 10)).tickSize(-12).tickPadding(12)
          .tickFormat(d => (base === 0 && +d === 0 ? "" : String(d))))
        .call(styleAxis);
    });

    // frame
    svg.append("rect")
      .attr("x", x0).attr("y", yt)
      .attr("width", x1 - x0).attr("height", yb - yt)
      .attr("fill", "none")
      .attr("stroke", "#000")
      .attr("stroke-width", 2.5);

    // legend
    const legend = svg.append("g");
    legend.selectAll("text.title")
      .data(legendTitle)
      .join("text")
      .attr("class", "title")
      .attr("x", 294)
      .attr("y", (d, k) => 132 + k * 40)
      .attr("font-size", 33)
      .text(d => d);
    legend.selectAll("rect")
      .data(pixelCounts)
      .join("rect")
      .attr("x", d => legendBand(d) as number)
      .attr("y", legendTop)
      .attr("width", legendBand.bandwidth())
      .attr("height", legendBottom - legendTop)
      .attr("fill", d => pixelColors[d - 1])
      .attr("stroke", "#333")
      .attr("stroke-width", 1);
    legend.selectAll("text.num")
      .data(pixelCounts)
      .join("text")
      .attr("class", "num")
      .attr("x", d => (legendBand(d) as number) + legendBand.bandwidth() / 2)
      .attr("y", 229)
      .attr("text-anchor", "middle")
      .attr("font-size", 33)
      .text(d => String(d));

    // axis titles
    svg.append("text")
      .attr("x", (x0 + x1) / 2).attr("y", 28)
      .attr("text-anchor", "middle").attr("font-size", 32)
      .text("Day of the Year 2006 (UTC)");
    svg.append("text")
      .attr("x", (x0 + x1) / 2).attr("y", 1194)
      .attr("text-anchor", "middle").attr("font-size", 33)
      .text("Date of the Year 2006 (UTC)");

    const yTitle = svg.append("text")
      .attr("transform", "translate(34,598) rotate(-90)")
      .attr("text-anchor", "middle")
      .attr("font-size", 32);
    yTitle.append("tspan").text("PM2.5 (µg/m");
    yTitle.append("tspan").attr("font-size", 21).attr("dy", -11).text("3");
    yTitle.append("tspan").attr("dy", 11).text(")");
  }, []);

  return <svg ref={svgRef} style={{ display: "block" }} />;
}
